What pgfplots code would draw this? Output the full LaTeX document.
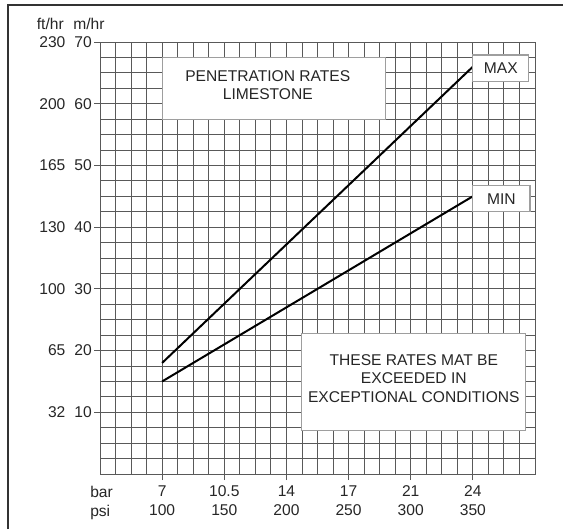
\documentclass[border=0pt]{standalone}
\usepackage{fontspec}
\setmainfont{Liberation Sans}
\usepackage{pgfplots}
\pgfplotsset{compat=1.18}
\definecolor{gridc}{gray}{0.35}
\definecolor{boxc}{gray}{0.62}
\definecolor{txt}{gray}{0.15}
\begin{document}
\fontsize{11.7}{14.25}\selectfont
\begin{tikzpicture}[x=0.75pt,y=0.75pt]
\useasboundingbox (0,0) rectangle (563,529);
\draw[line width=1.1pt, black!80] (8,0) -- (8,524) -- (563,524);
\node[anchor=base east, text=txt, inner sep=0pt] at (64,499) {ft/hr};
\node[anchor=base west, text=txt, inner sep=0pt] at (73,499) {m/hr};
\node[anchor=base west, text=txt, inner sep=0pt] at (90,32) {bar};
\node[anchor=base west, text=txt, inner sep=0pt] at (90,13) {psi};
\begin{axis}[
  at={(75pt,41.25pt)}, anchor=south west,
  scale only axis, width=326.25pt, height=324pt,
  xmin=50, xmax=400, ymin=0, ymax=70,
  xtick={100,150,200,250,300,350},
  xticklabels={7\\100, 10.5\\150, 14\\200, 17\\250, 21\\300, 24\\350},
  ytick={10,20,30,40,50,60,70},
  yticklabels={32\hspace{6.75pt}10, 65\hspace{6.75pt}20, 100\hspace{6.75pt}30,
    130\hspace{6.75pt}40, 165\hspace{6.75pt}50, 200\hspace{6.75pt}60, 230\hspace{6.75pt}70},
  minor xtick={50,62.5,...,400},
  minor ytick={0,2.5,...,70},
  grid=both,
  major grid style={gridc, line width=0.65pt},
  minor grid style={gridc, line width=0.65pt},
  axis line style={gridc, line width=0.65pt},
  tick style={gridc, line width=0.65pt},
  major tick length=4.5pt, minor tick length=0pt,
  tick align=outside, tick pos=left,
  every tick label/.append style={text=txt, font=\fontsize{11.7}{14.25}\selectfont},
  xticklabel style={align=center},
  yticklabel style={inner xsep=1.5pt},
]
\addplot[black, line width=1.5pt] coordinates {(100,18) (350,66)};
\addplot[black, line width=1.5pt] coordinates {(100,15) (350,45)};

\draw[boxc, line width=0.8pt, fill=white] (axis cs:100,57.5) rectangle (axis cs:280,67.5);
\node[align=center, text=txt, font=\fontsize{11.7}{13.8}\selectfont] at (axis cs:185,63) {PENETRATION RATES\\LIMESTONE};

\draw[boxc, line width=0.8pt, fill=white] (axis cs:212,7) rectangle (axis cs:392,22.7);
\node[align=center, text=txt, font=\fontsize{11.7}{13.8}\selectfont] at (axis cs:302.5,15.5) {THESE RATES MAT BE\\EXCEEDED IN\\EXCEPTIONAL CONDITIONS};

\draw[boxc, line width=0.8pt, fill=white] (axis cs:350,63.6) rectangle (axis cs:395,67.9);
\node[text=txt] at (axis cs:372.5,65.75) {MAX};

\draw[boxc, line width=0.8pt, fill=white] (axis cs:350,42.5) rectangle (axis cs:396,46.7);
\node[text=txt] at (axis cs:373,44.6) {MIN};
\end{axis}
\end{tikzpicture}
\end{document}
